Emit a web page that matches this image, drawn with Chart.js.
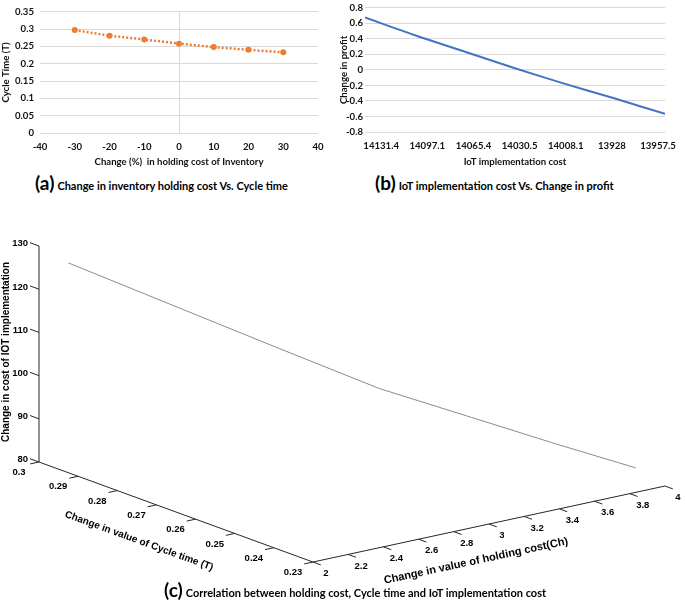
<!DOCTYPE html>
<html>
<head>
<meta charset="utf-8">
<script src="https://cdn.jsdelivr.net/npm/chart.js@4"></script>
<style>
  body { margin: 0; background: #fff; width: 685px; height: 604px; position: relative; overflow: hidden; }
  canvas { position: absolute; }
  .cap { position: absolute; font-family: Lato, sans-serif; font-weight: bold; font-size: 11px; white-space: nowrap; color: #000; line-height: 20px; }
  .cap .big { font-size: 19px; margin-right: 3px; }
</style>
</head>
<body>
<canvas id="chartA" width="340" height="170" style="left:0;top:0"></canvas>
<canvas id="chartB" width="345" height="170" style="left:340px;top:0"></canvas>
<canvas id="chartC" width="685" height="379" style="left:0;top:225px"></canvas>
<div class="cap" style="left:35px;top:173px"><span class="big">(a)</span>Change in inventory holding cost Vs. Cycle time</div>
<div class="cap" style="left:375px;top:173px"><span class="big">(b)</span>IoT implementation cost Vs. Change in profit</div>
<div class="cap" style="left:164px;top:580px"><span class="big">(c)</span>Correlation between holding cost, Cycle time and IoT implementation cost</div>

<script>
// (a) holding cost change (%) vs cycle time
const holdChange = [-30, -20, -10, 0, 10, 20, 30];
const cycleTime = [0.297, 0.281, 0.270, 0.258, 0.248, 0.240, 0.233];

// (b) IoT implementation cost vs change in profit
const costLabels = ['14131.4', '14097.1', '14065.4', '14030.5', '14008.1', '13928', '13957.5'];
const profitChange = [0.675, 0.446, 0.234, 0.021, -0.18, -0.369, -0.567];

// (c) holding cost, cycle time (above) and change in IoT cost
const holdCost = [2.1, 2.4, 2.7, 3.0, 3.3, 3.6, 3.9];
const iotCostChange = [126.2, 118.0, 110.0, 102.1, 96.1, 90.0, 84.1];

const zTicks = [80, 90, 100, 110, 120, 130];
const tTicks = [0.3, 0.29, 0.28, 0.27, 0.26, 0.25, 0.24, 0.23];
const chTicks = [2, 2.2, 2.4, 2.6, 2.8, 3, 3.2, 3.4, 3.6, 3.8, 4];

const tickFont = { family: 'Lato, sans-serif', size: 9.6, weight: 'bold' };
const textColor = '#111';
const gridColor = '#d9d9d9';

new Chart(document.getElementById('chartA'), {
  type: 'scatter',
  data: {
    datasets: [{
      data: holdChange.map((x, i) => ({ x, y: cycleTime[i] })),
      showLine: true,
      borderColor: '#ED7D31',
      backgroundColor: '#ED7D31',
      borderWidth: 2.5,
      borderDash: [2, 2],
      pointRadius: 3,
      pointBorderWidth: 0
    }]
  },
  options: {
    responsive: false,
    animation: false,
    layout: { padding: { top: 2, right: 22 } },
    plugins: { legend: { display: false }, tooltip: { enabled: false } },
    scales: {
      x: {
        min: -40, max: 40,
        ticks: { stepSize: 10, font: tickFont, color: textColor, padding: 8, maxRotation: 0 },
        grid: { color: c => (c.tick && c.tick.value === 0 ? gridColor : 'transparent'), drawTicks: false },
        border: { display: false },
        title: { display: true, text: 'Change (%)  in holding cost of Inventory', font: tickFont, color: textColor, padding: { top: 0, bottom: 2 } },
        afterFit: s => { s.height = 37; }
      },
      y: {
        min: 0, max: 0.35,
        ticks: { stepSize: 0.05, font: tickFont, color: textColor, padding: 6, callback: v => String(+v.toFixed(2)) },
        grid: { color: gridColor, drawTicks: false },
        border: { display: false },
        title: { display: true, text: 'Cycle Time (T)', font: tickFont, color: textColor, padding: 0 },
        afterFit: s => { s.width = 40; }
      }
    }
  }
});

new Chart(document.getElementById('chartB'), {
  type: 'scatter',
  data: {
    datasets: [{
      data: profitChange.map((y, i) => ({ x: i, y })),
      showLine: true,
      borderColor: '#4472C4',
      borderWidth: 2,
      pointRadius: 0,
      tension: 0.3
    }]
  },
  options: {
    responsive: false,
    animation: false,
    layout: { padding: { top: 3, right: 20 } },
    plugins: { legend: { display: false }, tooltip: { enabled: false } },
    scales: {
      x: { type: 'linear', min: 0, max: 6, display: false },
      xl: {
        type: 'linear', position: 'bottom', min: -0.35, max: 6.15,
        afterBuildTicks: s => { s.ticks = costLabels.map((_, i) => ({ value: i })); },
        ticks: { font: tickFont, color: textColor, padding: 8, maxRotation: 0, autoSkip: false, callback: v => costLabels[v] },
        grid: { display: false, drawTicks: false },
        border: { display: false },
        title: { display: true, text: 'IoT implementation cost', font: tickFont, color: textColor, padding: { top: 0, bottom: 2 } },
        afterFit: s => { s.height = 38; }
      },
      y: {
        min: -0.8, max: 0.8,
        ticks: { stepSize: 0.2, font: tickFont, color: textColor, padding: 2, callback: v => String(+v.toFixed(1)) },
        grid: { color: gridColor, drawTicks: false },
        border: { display: false },
        title: { display: true, text: 'Change in profit', font: tickFont, color: textColor, padding: { top: -1.5, bottom: 0 } },
        afterFit: s => { s.width = 25; }
      }
    }
  }
});

// (c) oblique 3D view projected onto a page-sized pair of hidden scales
const view = { x0: 39, y0: 462, ch: [176, -38], t: [-3914, -1429], z: -4.32 };
function proj(ch, t, z) {
  return {
    x: view.x0 + (ch - 2) * view.ch[0] + (t - 0.3) * view.t[0],
    y: view.y0 + (ch - 2) * view.ch[1] + (t - 0.3) * view.t[1] + (z - 80) * view.z
  };
}
function seg(a, b) {
  return { data: [a, b], showLine: true, borderColor: '#262626', borderWidth: 1, pointRadius: 0 };
}

const datasets3d = [{
  data: holdCost.map((ch, i) => proj(ch, cycleTime[i], iotCostChange[i])),
  showLine: true, borderColor: '#8c8c8c', borderWidth: 1, pointRadius: 0
}];
datasets3d.push(seg(proj(2, 0.3, 80), proj(2, 0.3, 130)));
datasets3d.push(seg(proj(2, 0.3, 80), proj(2, 0.23, 80)));
datasets3d.push(seg(proj(2, 0.23, 80), proj(4, 0.23, 80)));
zTicks.forEach(z => datasets3d.push(seg(proj(2, 0.3, z), proj(2, 0.3023, z))));
tTicks.forEach(t => datasets3d.push(seg(proj(2, t, 80), proj(1.95, t, 80))));
chTicks.forEach(ch => datasets3d.push(seg(proj(ch, 0.23, 80), proj(ch, 0.228, 80))));

function rotText(ctx, text, x, y, angle) {
  ctx.save();
  ctx.translate(x, y);
  ctx.rotate(angle);
  ctx.fillText(text, 0, 0);
  ctx.restore();
}

const axisText = {
  id: 'axisText',
  afterDatasetsDraw(chart) {
    const { ctx, scales: { x, y } } = chart;
    const px = p => [x.getPixelForValue(p.x), y.getPixelForValue(p.y)];
    ctx.save();
    ctx.fillStyle = '#000';
    ctx.font = 'bold 9.5px "Liberation Sans", Arial, sans-serif';
    ctx.textBaseline = 'middle';

    ctx.textAlign = 'right';
    zTicks.forEach(z => {
      const [a, b] = px(proj(2, 0.3023, z));
      ctx.fillText(String(z), a - 2, b + 1);
    });
    ctx.textAlign = 'center';
    tTicks.forEach(t => {
      const [a, b] = px(proj(2, t, 80));
      ctx.fillText(String(t), a - 20, b + 10.5);
    });
    chTicks.forEach(ch => {
      const [a, b] = px(proj(ch, 0.23, 80));
      ctx.fillText(String(ch), a + 13, b + 11.5);
    });

    ctx.font = 'bold 10px "Liberation Sans", Arial, sans-serif';
    const [zx, zy] = px(proj(2, 0.3, 105));
    rotText(ctx, 'Change in cost of IOT implementation', zx - 33, zy - 2, -Math.PI / 2);

    const [t0x, t0y] = px(proj(2, 0.3, 80));
    const [t1x, t1y] = px(proj(2, 0.23, 80));
    const [tmx, tmy] = px(proj(2, 0.265, 80));
    rotText(ctx, 'Change in value of Cycle time (T)', tmx - 37, tmy + 29, Math.atan2(t1y - t0y, t1x - t0x));

    const [c1x, c1y] = px(proj(4, 0.23, 80));
    const [cmx, cmy] = px(proj(3, 0.23, 80));
    ctx.font = 'bold 11px "Liberation Sans", Arial, sans-serif';
    rotText(ctx, 'Change in value of holding cost(Ch)', cmx - 13, cmy + 37, Math.atan2(c1y - t1y, c1x - t1x));
    ctx.restore();
  }
};

new Chart(document.getElementById('chartC'), {
  type: 'scatter',
  data: { datasets: datasets3d },
  options: {
    responsive: false,
    animation: false,
    layout: { padding: 0 },
    plugins: { legend: { display: false }, tooltip: { enabled: false } },
    scales: {
      x: { type: 'linear', min: 0, max: 685, display: false },
      y: { type: 'linear', min: 225, max: 604, reverse: true, display: false }
    }
  },
  plugins: [axisText]
});
</script>
</body>
</html>
